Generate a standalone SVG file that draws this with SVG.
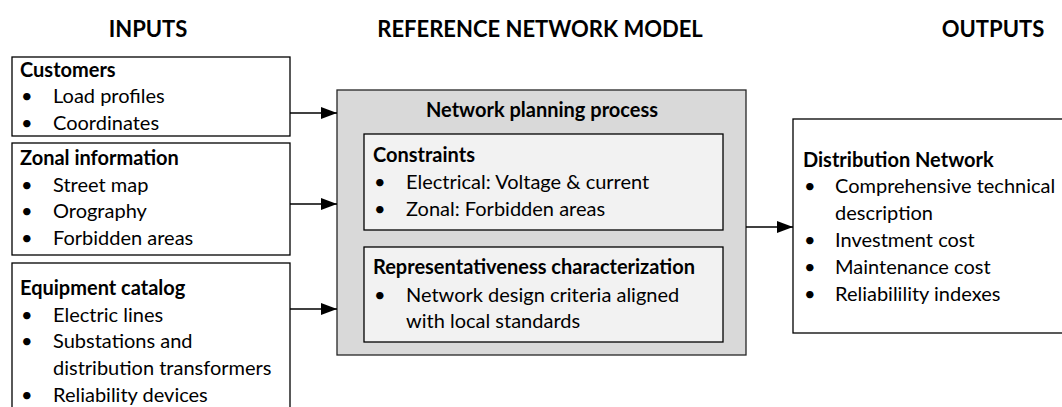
<svg xmlns="http://www.w3.org/2000/svg" width="1062" height="407" viewBox="0 0 1062 407">
<defs>
<style>
text{font-family:Lato,"Liberation Sans",sans-serif;font-size:20px;fill:#000}
.b{font-weight:bold}
.t{font-weight:bold;font-size:22px;text-anchor:middle}
.box{fill:#fff;stroke:#000;stroke-width:1.3}
.outer{fill:#d9d9d9;stroke:#262626;stroke-width:1.3}
.inner{fill:#f2f2f2;stroke:#000;stroke-width:1.3}
.c{stroke:#000;stroke-width:1.3;fill:none;marker-end:url(#ah)}
</style>
<marker id="ah" markerWidth="16" markerHeight="12" refX="16" refY="6" orient="auto" markerUnits="userSpaceOnUse">
<path d="M0,0 L16,6 L0,12 Z" fill="#000"/>
</marker>
</defs>
<rect width="1062" height="407" fill="#fff"/>
<g id="titles">
<text class="t" x="148" y="37">INPUTS</text>
<text class="t" x="540" y="37">REFERENCE NETWORK MODEL</text>
<text class="t" x="993" y="37">OUTPUTS</text>
</g>
<g id="customers">
<rect class="box" x="12" y="57" width="278" height="79"/>
<text class="b" x="20" y="77">Customers</text>
<text x="21" y="103">•</text><text x="53" y="103">Load profiles</text>
<text x="21" y="130">•</text><text x="53" y="130">Coordinates</text>
</g>
<g id="zonal">
<rect class="box" x="12" y="143" width="278" height="112"/>
<text class="b" x="20" y="165">Zonal information</text>
<text x="21" y="192">•</text><text x="53" y="192">Street map</text>
<text x="21" y="218">•</text><text x="53" y="218">Orography</text>
<text x="21" y="245">•</text><text x="53" y="245">Forbidden areas</text>
</g>
<g id="equipment">
<rect class="box" x="12" y="263" width="278" height="160"/>
<text class="b" x="20" y="295">Equipment catalog</text>
<text x="21" y="322">•</text><text x="53" y="322">Electric lines</text>
<text x="21" y="348">•</text><text x="53" y="348">Substations and</text>
<text x="53" y="375">distribution transformers</text>
<text x="21" y="402">•</text><text x="53" y="402">Reliability devices</text>
</g>
<g id="planning">
<rect class="outer" x="337" y="90" width="409" height="265"/>
<text class="b" x="542" y="117" text-anchor="middle">Network planning process</text>
</g>
<g id="constraints">
<rect class="inner" x="364" y="134" width="359" height="96"/>
<text class="b" x="373" y="162">Constraints</text>
<text x="374" y="189">•</text><text x="406" y="189">Electrical: Voltage &amp; current</text>
<text x="374" y="216">•</text><text x="406" y="216">Zonal: Forbidden areas</text>
</g>
<g id="representativeness">
<rect class="inner" x="364" y="247" width="359" height="95"/>
<text class="b" x="373" y="274">Representativeness characterization</text>
<text x="374" y="302">•</text><text x="406" y="302">Network design criteria aligned</text>
<text x="406" y="328">with local standards</text>
</g>
<g id="output">
<rect class="box" x="793" y="119" width="280" height="214"/>
<text class="b" x="803" y="167">Distribution Network</text>
<text x="804" y="193">•</text><text x="835" y="193">Comprehensive technical</text>
<text x="835" y="220">description</text>
<text x="804" y="247">•</text><text x="835" y="247">Investment cost</text>
<text x="804" y="274">•</text><text x="835" y="274">Maintenance cost</text>
<text x="804" y="301">•</text><text x="835" y="301">Reliabilility indexes</text>
</g>
<g id="connectors">
<line class="c" x1="290" y1="113" x2="337" y2="113"/>
<line class="c" x1="290" y1="204" x2="337" y2="204"/>
<line class="c" x1="290" y1="309" x2="337" y2="309"/>
<line class="c" x1="746" y1="227" x2="793" y2="227"/>
</g>
</svg>
